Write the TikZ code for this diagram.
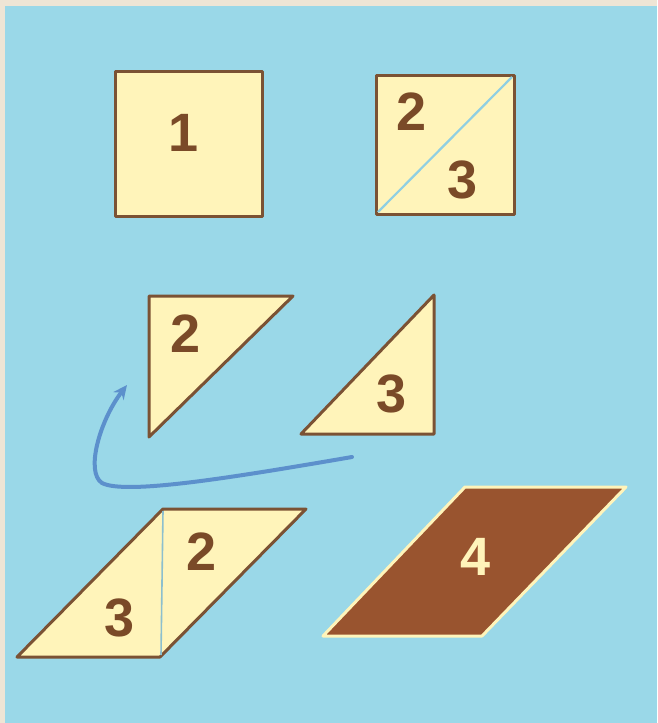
\documentclass[tikz,border=0pt]{standalone}
\usepackage{fontspec}
\setmainfont{Liberation Sans}
\usetikzlibrary{arrows.meta}
\definecolor{bgbeige}{HTML}{EEE5D5}
\definecolor{panel}{HTML}{9AD8E8}
\definecolor{cream}{HTML}{FFF4BA}
\definecolor{edge}{HTML}{7B5234}
\definecolor{txt}{HTML}{7A4A28}
\definecolor{seam}{HTML}{8FCFE2}
\definecolor{arrowblue}{HTML}{5C90CC}
\definecolor{brownfill}{HTML}{99542F}
\tikzset{
  piece/.style={fill=cream, draw=edge, line width=3pt, line join=round},
  darkpiece/.style={fill=brownfill, draw=cream, line width=3pt, line join=round},
  num/.style={font=\bfseries\fontsize{54}{54}\selectfont, text=txt, inner sep=0pt},
  numlight/.style={font=\bfseries\fontsize{54}{54}\selectfont, text=cream, inner sep=0pt},
  seamline/.style={draw=seam, line width=2.2pt}
}
\begin{document}
\begin{tikzpicture}[x=1pt,y=-1pt]
\useasboundingbox (0,0) rectangle (657,723);
\fill[bgbeige] (0,0) rectangle (657,723);
\fill[panel] (5,6) rectangle (657,723);
% square 1
\draw[piece] (115,71) rectangle (262,216);
\node[num] (n1) at (184,133) {1};
% square 2/3
\draw[piece] (376,75) rectangle (514,214);
\draw[seamline] (378,212) -- (512,77);
\node[num] (n2a) at (412,112) {2};
\node[num] (n3a) at (463,180) {3};
% triangle 2
\draw[piece] (149,296) -- (293,296) -- (149,437) -- cycle;
\node[num] (n2b) at (186,334) {2};
% triangle 3
\draw[piece] (434,295) -- (434,434) -- (301,434) -- cycle;
\node[num] (n3b) at (392,394) {3};
% arrow
\coordinate (as) at (352,457);
\coordinate (ae) at (127,385);
\draw[arrowblue, line width=4pt, line cap=round, -{Stealth[length=14pt,width=13pt]}]
  (as) .. controls (230,478) and (125,495) .. (102,483)
       .. controls (85,472) and (100,420) .. (ae);
% parallelogram 2+3
\draw[piece] (17,657) -- (160,657) -- (306,509) -- (163,509) -- cycle;
\draw[draw=seam!80!gray, line width=1.6pt] (163,511) -- (161,655);
\node[num] (n2c) at (202,552) {2};
\node[num] (n3c) at (120,618) {3};
% parallelogram 4
\draw[darkpiece] (323,636) -- (482,636) -- (626,487) -- (465,487) -- cycle;
\node[numlight] (n4) at (476,557) {4};
\end{tikzpicture}
\end{document}
